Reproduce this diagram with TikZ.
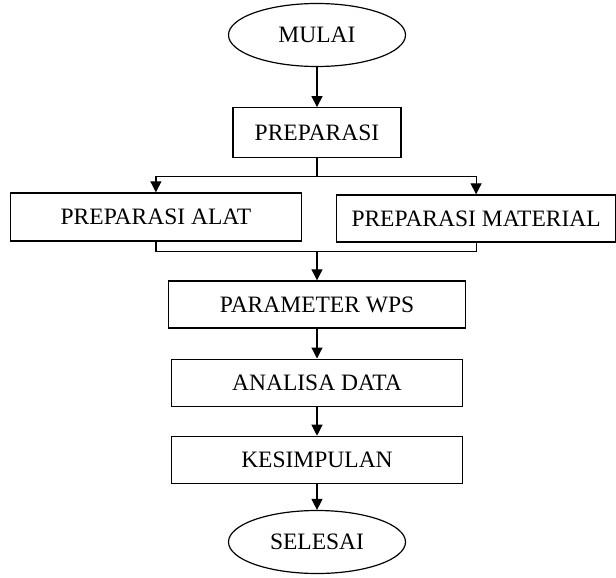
\documentclass[tikz,border=0pt]{standalone}
\usepackage{fontspec}
\setmainfont{Liberation Serif}
\usepackage{tikz}
\usetikzlibrary{shapes.geometric,arrows.meta,positioning}

\begin{document}
\begin{tikzpicture}[x=1pt, y=1pt, >={Triangle[width=11pt,length=11pt]}, line width=1.2pt,
    kotak/.style={draw, rectangle, font=\fontsize{23.5}{27}\selectfont, minimum width=291pt, minimum height=47pt, inner sep=0pt},
    oval/.style={draw, ellipse, font=\fontsize{23.5}{27}\selectfont, minimum width=177pt, minimum height=63pt, inner sep=0pt}]
    \useasboundingbox (0,0) rectangle (616,-578);
    \node[oval] (mulai) at (317,-35) {MULAI};
    \node[kotak, minimum width=168pt, minimum height=50pt, below=40pt of mulai] (preparasi) {PREPARASI};
    \node[kotak, minimum height=48pt, below left=34pt and 15pt of preparasi.south] (alat) {PREPARASI ALAT};
    \node[kotak, minimum width=279pt, below right=36pt and 19pt of preparasi.south] (material) {PREPARASI MATERIAL};
    \node[kotak, minimum width=297pt, below=122pt of preparasi] (wps) {PARAMETER WPS};
    \node[kotak, below=30pt of wps] (analisa) {ANALISA DATA};
    \node[kotak, below=29pt of analisa] (kesimpulan) {KESIMPULAN};
    \node[oval, below=26pt of kesimpulan] (selesai) {SELESAI};

    \coordinate[below=18pt of preparasi] (cabang);
    \coordinate[above=29pt of wps] (gabung);

    \draw[->] (mulai) -- (preparasi);
    \draw (preparasi) -- (cabang);
    \draw[->] (cabang) -| (alat);
    \draw[->] (cabang) -| (material);
    \draw (alat) |- (gabung) -| (material);
    \draw[->] (gabung) -- (wps);
    \draw[->] (wps) -- (analisa);
    \draw[->] (analisa) -- (kesimpulan);
    \draw[->] (kesimpulan) -- (selesai);
\end{tikzpicture}
\end{document}
